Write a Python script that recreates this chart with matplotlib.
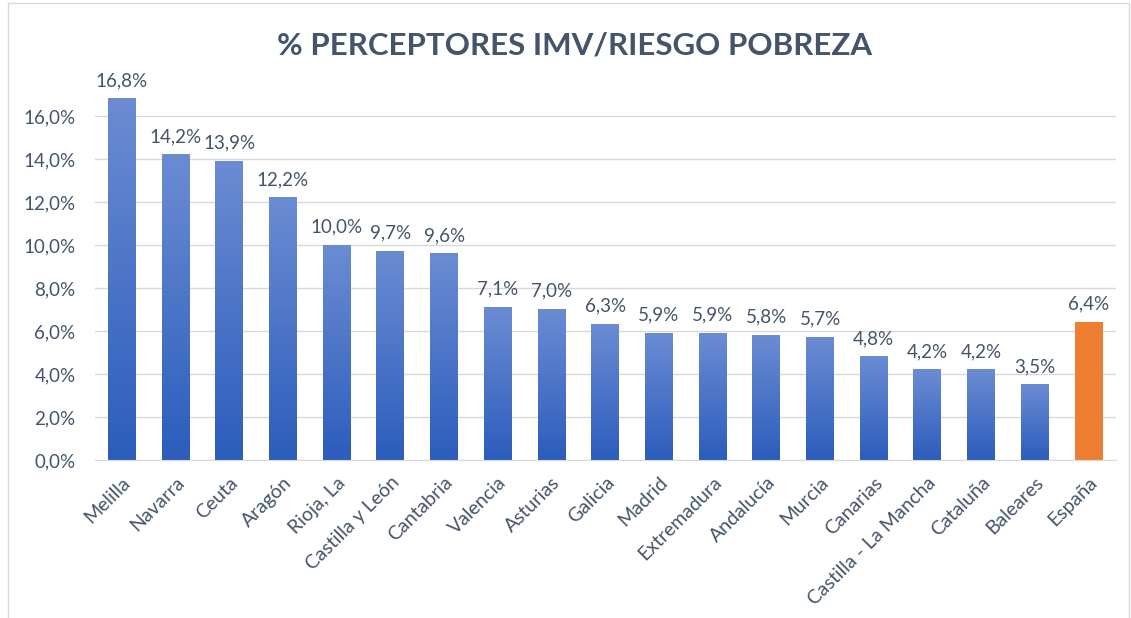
import numpy as np
import matplotlib.pyplot as plt
from matplotlib.colors import LinearSegmentedColormap
from matplotlib.patches import Rectangle

# datos
regiones = ['Melilla', 'Navarra', 'Ceuta', 'Aragón', 'Rioja, La', 'Castilla y León',
            'Cantabria', 'Valencia', 'Asturias', 'Galicia', 'Madrid', 'Extremadura',
            'Andalucía', 'Murcia', 'Canarias', 'Castilla - La Mancha', 'Cataluña',
            'Baleares', 'España']
valores = [16.8, 14.2, 13.9, 12.2, 10.0, 9.7, 9.6, 7.1, 7.0, 6.3, 5.9, 5.9, 5.8,
           5.7, 4.8, 4.2, 4.2, 3.5, 6.4]
yticks = [0, 2, 4, 6, 8, 10, 12, 14, 16]

texto = '#44546A'
plt.rcParams['font.family'] = ['Lato', 'DejaVu Sans']

fig = plt.figure(figsize=(11.31, 6.18), dpi=100)
ax = fig.add_axes([0.084, 0.2557, 0.9027, 0.626])

x = np.arange(len(regiones))
colores = ['#ED7D31' if r == 'España' else '#4472C4' for r in regiones]
barras = ax.bar(x, valores, width=0.52, color=colores, zorder=2)

# degradado azul en cada barra
cmap = LinearSegmentedColormap.from_list('azul', ['#2C5DBC', '#6B8CD3'])
grad = np.linspace(0, 1, 256).reshape(-1, 1)
for b, r in zip(barras, regiones):
    if r == 'España':
        continue
    x0, w, h = b.get_x(), b.get_width(), b.get_height()
    b.set_alpha(0)
    ax.imshow(grad, extent=(x0, x0 + w, 0, h), origin='lower', cmap=cmap,
              aspect='auto', zorder=2)

for xi, v in zip(x, valores):
    ax.annotate(f'{v:.1f}%'.replace('.', ','), xy=(xi, v), xytext=(0, 7),
                textcoords='offset points', ha='center', va='bottom',
                fontsize=13.5, color=texto)

ax.set_xlim(-0.5, len(regiones) - 0.49)
ax.set_ylim(0, 18)
ax.set_yticks(yticks)
ax.set_yticklabels([f'{t:.1f}%'.replace('.', ',') for t in yticks],
                   fontsize=13.5, color=texto)
ax.set_xticks(x)
ax.set_xticklabels(regiones, rotation=45, ha='right', rotation_mode='anchor',
                   fontsize=14, color=texto)
ax.tick_params(axis='both', length=0)
ax.tick_params(axis='y', pad=14)
ax.tick_params(axis='x', pad=10)
ax.grid(axis='y', color='#D9D9D9', linewidth=1, zorder=0)
for s in ['top', 'right', 'left']:
    ax.spines[s].set_visible(False)
ax.spines['bottom'].set_color('#D9D9D9')

fig.text(0.508, 0.927, '% PERCEPTORES IMV/RIESGO POBREZA', ha='center', va='center',
         fontsize=22.5, fontweight='bold', color=texto)

# marco del grafico
fig.patches.append(Rectangle((0.007, -0.01), 0.991, 1.005, transform=fig.transFigure,
                             fill=False, edgecolor='#D9D9D9', linewidth=1))

plt.savefig('out.png', dpi=100)
